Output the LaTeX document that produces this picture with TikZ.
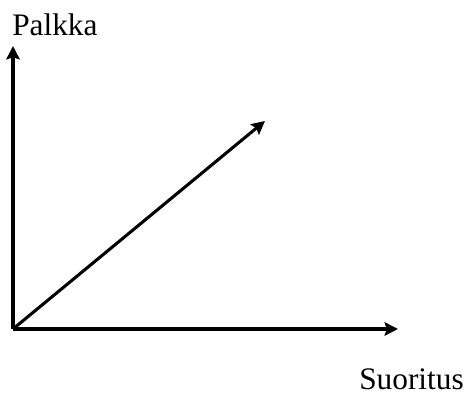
\documentclass[tikz,border=0pt]{standalone}
\usepackage{fontspec}
\setmainfont{Liberation Serif}
\usepackage{tikz}
\usetikzlibrary{arrows.meta, positioning}

\begin{document}
\begin{tikzpicture}[
    x=0.75pt, y=0.75pt,
    axis/.style={-{Stealth[length=10pt, width=10pt, inset=1.5pt]}, line width=2.3pt},
    lbl/.style={inner sep=0pt, font=\fontsize{23.5}{28}\selectfont},
  ]
  \useasboundingbox (0,0) rectangle (464,398);

  %% ── Axes ──
  \coordinate (O)    at (13,69);
  \coordinate (ytip) at (13,352);
  \coordinate (xtip) at (398,69);
  \coordinate (dtip) at (265,277);

  %% ── Labels ──
  \node[lbl, anchor=base west] (palkka)   at (12,362) {Palkka};
  \node[lbl, anchor=base west] (suoritus) at (359,8) {Suoritus};

  \draw[axis] (O) -- (ytip);
  \draw[axis] (O) -- (xtip);
  \draw[axis] (O) -- (dtip);

\end{tikzpicture}
\end{document}
